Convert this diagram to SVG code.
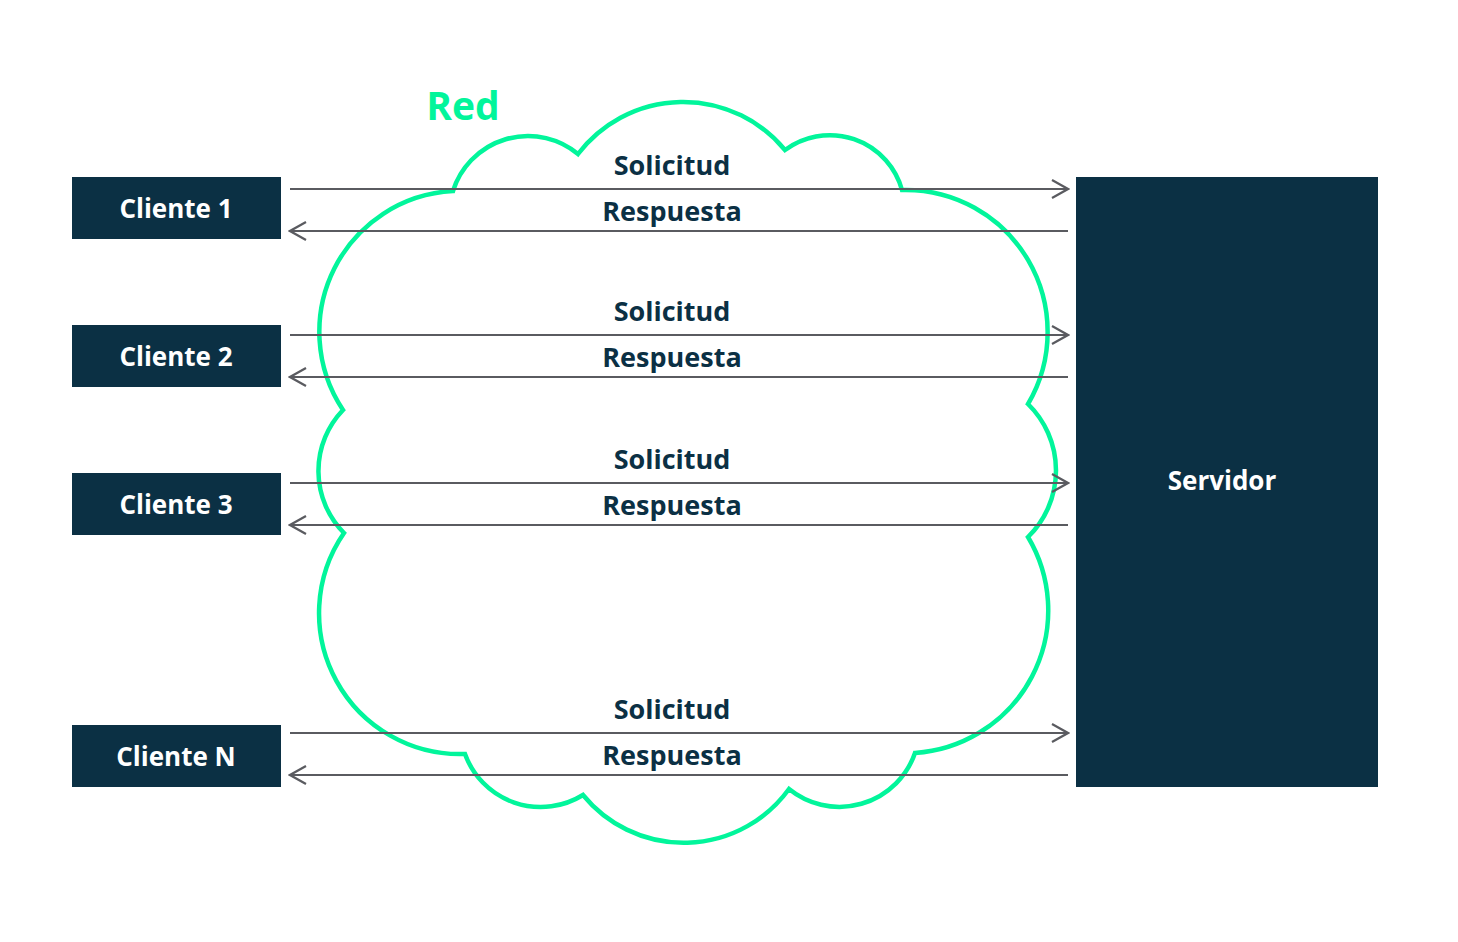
<svg xmlns="http://www.w3.org/2000/svg" width="1458" height="942" viewBox="0 0 1458 942">
<defs>
<style>
.box{fill:#0b3044}
.lbl{font-family:"Open Sans","Noto Sans",sans-serif;font-weight:700;font-size:26px;fill:#ffffff;text-anchor:middle}
.msg{font-family:"Open Sans","Noto Sans",sans-serif;font-weight:700;font-size:27px;fill:#0b3044;text-anchor:middle}
.ln{stroke:#5a5b60;stroke-width:2.2;fill:none}
.cloud{fill:#ffffff;stroke:#02f59b;stroke-width:4.5;stroke-linejoin:miter}
</style>
<marker id="ah" viewBox="0 0 20 20" refX="18" refY="10" markerWidth="20" markerHeight="20" markerUnits="userSpaceOnUse" orient="auto-start-reverse">
<path d="M2,1 L18,10 L2,19" fill="none" stroke="#5a5b60" stroke-width="2.2"/>
</marker>
</defs>
<rect width="1458" height="942" fill="#ffffff"/>
<g id="cloud">
<path class="cloud" d="M453,191 A78.6,78.6 0 0 1 578,154 A132,132 0 0 1 785,150 A75,75 0 0 1 902,190 A142,142 0 0 1 1028,404 A93,93 0 0 1 1028,537 A143,143 0 0 1 915,753 A80,80 0 0 1 789,789 A130,130 0 0 1 583,795 A80.5,80.5 0 0 1 465,754 A141,141 0 0 1 344,533 A88,88 0 0 1 343,410 A141,141 0 0 1 453,191 Z"/>
<text x="463" y="120" font-family="'Open Sans','Noto Sans',sans-serif" font-weight="700" font-size="39" fill="#02f59b" text-anchor="middle">Red</text>
</g>
<g id="cliente1"><rect class="box" x="72" y="177" width="209" height="62"/><text class="lbl" x="176" y="218">Cliente 1</text></g>
<g id="cliente2"><rect class="box" x="72" y="325" width="209" height="62"/><text class="lbl" x="176" y="366">Cliente 2</text></g>
<g id="cliente3"><rect class="box" x="72" y="473" width="209" height="62"/><text class="lbl" x="176" y="514">Cliente 3</text></g>
<g id="clienteN"><rect class="box" x="72" y="725" width="209" height="62"/><text class="lbl" x="176" y="766">Cliente N</text></g>
<g id="servidor"><rect class="box" x="1076" y="177" width="302" height="610"/><text class="lbl" x="1222" y="490">Servidor</text></g>
<g id="connectors">
<line class="ln" x1="290" y1="189" x2="1068" y2="189" marker-end="url(#ah)"/>
<line class="ln" x1="1068" y1="231" x2="290" y2="231" marker-end="url(#ah)"/>
<line class="ln" x1="290" y1="335" x2="1068" y2="335" marker-end="url(#ah)"/>
<line class="ln" x1="1068" y1="377" x2="290" y2="377" marker-end="url(#ah)"/>
<line class="ln" x1="290" y1="483" x2="1068" y2="483" marker-end="url(#ah)"/>
<line class="ln" x1="1068" y1="525" x2="290" y2="525" marker-end="url(#ah)"/>
<line class="ln" x1="290" y1="733" x2="1068" y2="733" marker-end="url(#ah)"/>
<line class="ln" x1="1068" y1="775" x2="290" y2="775" marker-end="url(#ah)"/>
<text class="msg" x="672" y="175">Solicitud</text>
<text class="msg" x="672" y="221">Respuesta</text>
<text class="msg" x="672" y="321">Solicitud</text>
<text class="msg" x="672" y="367">Respuesta</text>
<text class="msg" x="672" y="469">Solicitud</text>
<text class="msg" x="672" y="515">Respuesta</text>
<text class="msg" x="672" y="719">Solicitud</text>
<text class="msg" x="672" y="765">Respuesta</text>
</g>
</svg>
